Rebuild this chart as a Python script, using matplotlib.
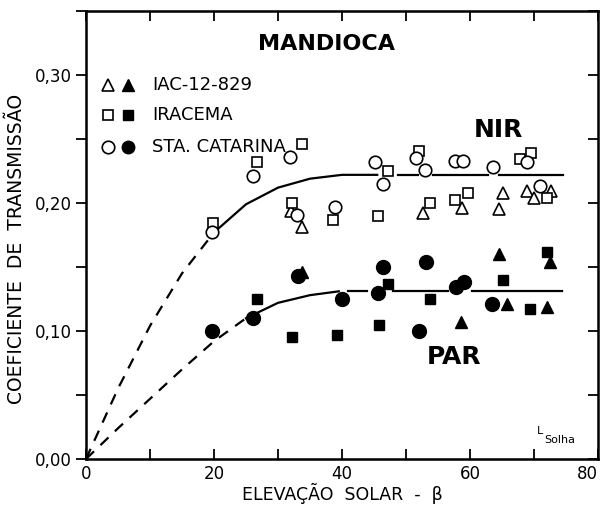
import numpy as np
import matplotlib.pyplot as plt
from matplotlib.ticker import MultipleLocator, FuncFormatter

# NIR (open markers)
iac_nir_x = [32.0, 33.7, 52.7, 58.7, 64.5, 65.2, 68.9, 70.0, 72.7]
iac_nir_y = [0.194, 0.181, 0.192, 0.196, 0.195, 0.208, 0.209, 0.204, 0.209]
ira_nir_x = [19.8, 26.7, 33.7, 32.2, 38.6, 47.2, 45.6, 52.0, 53.7, 57.7, 59.7, 67.8, 69.5, 72.0]
ira_nir_y = [0.184, 0.232, 0.246, 0.200, 0.187, 0.225, 0.190, 0.241, 0.200, 0.202, 0.208, 0.234, 0.239, 0.204]
sta_nir_x = [19.7, 26.1, 31.9, 33.0, 38.9, 45.2, 46.4, 51.6, 53.0, 57.7, 58.9, 63.6, 68.9, 70.9]
sta_nir_y = [0.177, 0.221, 0.236, 0.191, 0.197, 0.232, 0.215, 0.235, 0.226, 0.233, 0.233, 0.228, 0.232, 0.213]

# PAR (filled markers)
iac_par_x = [33.7, 58.6, 64.5, 65.8, 72.5, 72.0]
iac_par_y = [0.146, 0.107, 0.160, 0.121, 0.154, 0.119]
ira_par_x = [26.7, 32.2, 39.2, 45.8, 47.2, 53.7, 65.2, 69.4, 72.0]
ira_par_y = [0.125, 0.095, 0.097, 0.105, 0.137, 0.125, 0.140, 0.117, 0.162]
sta_par_x = [19.7, 26.1, 33.1, 40.0, 46.4, 45.6, 53.1, 52.0, 57.8, 59.1, 63.4]
sta_par_y = [0.100, 0.110, 0.143, 0.125, 0.150, 0.130, 0.154, 0.100, 0.134, 0.138, 0.121]

# fitted curves
nir_dash_x = [0, 5, 10, 15, 20]
nir_dash_y = [0, 0.055, 0.104, 0.145, 0.177]
nir_solid_x = [20, 25, 30, 35, 40, 45.5]
nir_solid_y = [0.177, 0.199, 0.212, 0.219, 0.222, 0.222]
nir_level = 0.222
nir_flat = [(48.7, 51.9), (54.2, 62.8), (64.5, 74.5)]

par_dash_x = [0, 5, 10, 15, 20, 25]
par_dash_y = [0, 0.024, 0.047, 0.070, 0.092, 0.110]
par_solid_x = [25, 30, 35, 39.5]
par_solid_y = [0.110, 0.122, 0.128, 0.131]
par_level = 0.131
par_flat = [(40.9, 43.9), (48.0, 56.6), (60.3, 74.4)]

x_ticks = [0, 20, 40, 60, 80]

fig = plt.figure(figsize=(6.01, 5.05), dpi=100)
ax = fig.add_axes([86/601, 46/505, 512/601, 448/505])

lw = 1.6
ax.plot(nir_dash_x, nir_dash_y, color='black', lw=lw, ls=(0, (5, 4)))
ax.plot(nir_solid_x, nir_solid_y, color='black', lw=lw)
for a, b in nir_flat:
    ax.plot([a, b], [nir_level, nir_level], color='black', lw=lw)
ax.plot(par_dash_x, par_dash_y, color='black', lw=lw, ls=(0, (5, 4)))
ax.plot(par_solid_x, par_solid_y, color='black', lw=lw)
for a, b in par_flat:
    ax.plot([a, b], [par_level, par_level], color='black', lw=lw)

op = dict(ls='none', mfc='white', mec='black', mew=1.2, color='black')
fp = dict(ls='none', color='black')
ax.plot(iac_nir_x, iac_nir_y, marker='^', ms=9, **op)
ax.plot(ira_nir_x, ira_nir_y, marker='s', ms=7.5, **op)
ax.plot(sta_nir_x, sta_nir_y, marker='o', ms=9, **op)
ax.plot(iac_par_x, iac_par_y, marker='^', ms=9, **fp)
ax.plot(ira_par_x, ira_par_y, marker='s', ms=7, **fp)
ax.plot(sta_par_x, sta_par_y, marker='o', ms=10, **fp)

ax.set_xlim(0, 80)
ax.set_ylim(0, 0.35)
ax.set_xticks(x_ticks)
ax.set_xticklabels([str(v) for v in x_ticks])
ax.xaxis.set_minor_locator(MultipleLocator(10))
ax.yaxis.set_major_locator(MultipleLocator(0.1))
ax.yaxis.set_minor_locator(MultipleLocator(0.05))
ax.yaxis.set_major_formatter(FuncFormatter(lambda v, p: f'{v:.2f}'.replace('.', ',')))
ax.tick_params(axis='x', which='both', direction='in', top=True, length=7, width=1.3, labelsize=12, pad=4)
ax.tick_params(axis='y', which='both', direction='out', length=7, width=1.3, labelsize=12)
ax.get_xticklabels()[-1].set_horizontalalignment('right')
for sp in ax.spines.values():
    sp.set_linewidth(1.8)
# right side ticks point inward
ax2 = ax.twinx()
ax2.set_ylim(0, 0.35)
ax2.yaxis.set_major_locator(MultipleLocator(0.05))
ax2.tick_params(axis='y', direction='in', length=7, width=1.3, labelright=False)

ax.set_xlabel('ELEVAÇÃO  SOLAR  -  β', fontsize=12.5, labelpad=0)
ax.set_ylabel('COEFICIENTE  DE  TRANSMISSÃO', fontsize=13.5)
ax.yaxis.set_label_coords(-0.118, 0.47)

ax.text(37.5, 0.324, 'MANDIOCA', fontsize=16, fontweight='bold', ha='center', va='center')
ax.text(64.5, 0.257, 'NIR', fontsize=18, fontweight='bold', ha='center', va='center')
ax.text(57.5, 0.080, 'PAR', fontsize=18, fontweight='bold', ha='center', va='center')
ax.text(70.5, 0.018, 'L', fontsize=8, ha='left', va='bottom')
ax.text(71.6, 0.011, 'Solha', fontsize=8, ha='left', va='bottom')

# legend drawn by hand
leg_rows = [('^', 9, 'IAC-12-829'), ('s', 7, 'IRACEMA'), ('o', 9, 'STA. CATARINA')]
leg_y = [0.292, 0.269, 0.244]
for (m, s, lab), yy in zip(leg_rows, leg_y):
    ax.plot([3.4], [yy], marker=m, ms=s, **op)
    ax.plot([6.5], [yy], marker=m, ms=s, **fp)
    ax.text(10.3, yy, lab, fontsize=13, va='center', ha='left')

fig.savefig('out.png', dpi=100)
